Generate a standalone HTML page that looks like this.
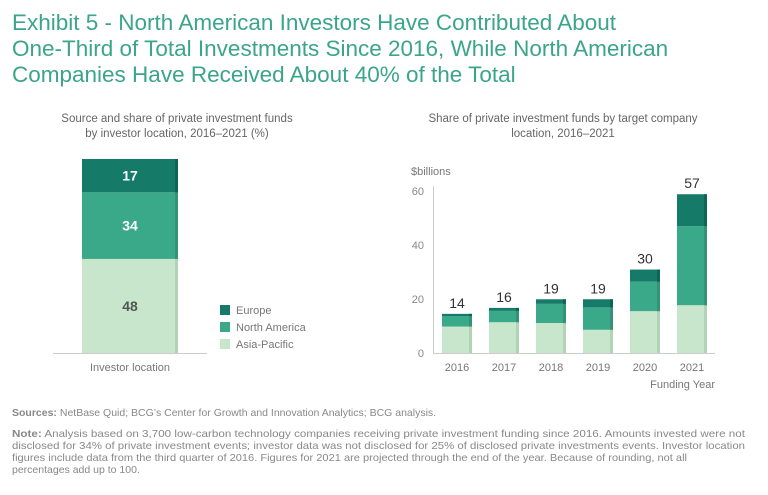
<!DOCTYPE html>
<html><head><meta charset="utf-8"><style>
body{margin:0;background:#fff;width:768px;height:490px;overflow:hidden;font-family:"Liberation Sans",sans-serif}
svg text{font-family:"Liberation Sans",sans-serif}
.note{font-family:"Liberation Sans Narrow","Liberation Sans",sans-serif}
</style></head><body>
<svg width="768" height="490">
<g fill="#3aa58a" font-size="22.5">
<text x="12" y="30">Exhibit 5 - North American Investors Have Contributed About</text>
<text x="12" y="56">One-Third of Total Investments Since 2016, While North American</text>
<text x="12" y="82">Companies Have Received About 40% of the Total</text>
</g>
<g fill="#666" font-size="11.5" text-anchor="middle">
<text x="177" y="122">Source and share of private investment funds</text>
<text x="177" y="137">by investor location, 2016–2021 (%)</text>
</g>
<g fill="#666" font-size="11.5" text-anchor="middle">
<text x="563" y="122">Share of private investment funds by target company</text>
<text x="563" y="137">location, 2016–2021</text>
</g>
<g id="left"></g>
<g id="right"></g>
<g class="note" fill="#888" font-size="10.5">
<text x="12" y="416"><tspan font-weight="bold">Sources:</tspan> NetBase Quid; BCG’s Center for Growth and Innovation Analytics; BCG analysis.</text>
<text x="12" y="437" textLength="733" lengthAdjust="spacingAndGlyphs"><tspan font-weight="bold">Note:</tspan> Analysis based on 3,700 low-carbon technology companies receiving private investment funding since 2016. Amounts invested were not</text>
<text x="12" y="449" textLength="733" lengthAdjust="spacingAndGlyphs">disclosed for 34% of private investment events; investor data was not disclosed for 25% of disclosed private investments events. Investor location</text>
<text x="12" y="461" textLength="675" lengthAdjust="spacingAndGlyphs">figures include data from the third quarter of 2016. Figures for 2021 are projected through the end of the year. Because of rounding, not all</text>
<text x="12" y="473">percentages add up to 100.</text>
</g>
</svg>
<script>
const NS="http://www.w3.org/2000/svg";
const shareSegments=["Asia-Pacific","North America","Europe"];
const shareValues=[48,34,17];
const years=["2016","2017","2018","2019","2020","2021"];
const apValues=[9.8,11.4,11.1,8.6,15.5,17.7];
const naValues=[3.9,4.2,7.1,8.3,10.9,29.3];
const euValues=[0.8,1.1,1.7,3.0,4.5,11.8];
const totalLabels=["14","16","19","19","30","57"];
const yTicks=[0,20,40,60];
const colors={"Europe":"#167a68","North America":"#3aa98a","Asia-Pacific":"#c8e6cb"};
const shadows={"Europe":"#0f6555","North America":"#329475","Asia-Pacific":"#b3d3b6"};
function mk(p,t,a){const e=document.createElementNS(NS,t);for(const k in a)e.setAttribute(k,a[k]);p.appendChild(e);return e;}
// left
const L=document.getElementById('left');
const lBase=353,lTop=159,shareTotal=shareValues.reduce((a,b)=>a+b,0);
const ly=v=>lBase-(v/shareTotal)*(lBase-lTop);
let cum=0;
shareValues.forEach((v,i)=>{
  const s=shareSegments[i];const y1=ly(cum+v),y0=ly(cum);
  const r=mk(L,'rect',{x:82,y:y1,width:96,height:y0-y1,fill:colors[s]});
  
  
  const sh=mk(L,'rect',{x:175,y:y1,width:3,height:y0-y1,fill:shadows[s]});
  
  
  const t=mk(L,'text',{x:130,y:(y0+y1)/2+5,'text-anchor':'middle','font-size':14,'font-weight':'bold',fill:i==0?'#555':'#fff'});
  t.textContent=v;
  
  
  cum+=v;
});
const la=mk(L,'line',{x1:53,x2:207,y1:353.5,y2:353.5,stroke:'#ccc'});


const lx=mk(L,'text',{x:130,y:371,'text-anchor':'middle','font-size':11,fill:'#777'});lx.textContent='Investor location';


["Europe","North America","Asia-Pacific"].forEach((s,i)=>{
  const g=mk(L,'g',{});
  
  
  mk(g,'rect',{x:220,y:305+i*17,width:10,height:10,fill:colors[s]});
  const t=mk(g,'text',{x:236,y:314+i*17,'font-size':11,fill:'#777'});t.textContent=s;
});
// right
const R=document.getElementById('right');
const y0=353,yPerUnit=(353-191)/60;
const yS=v=>y0-v*yPerUnit;
const bx=i=>442+i*47;
mk(R,'line',{x1:433.5,x2:433.5,y1:186,y2:353,stroke:'#ccc'});
const ax=mk(R,'line',{x1:433,x2:715,y1:353.5,y2:353.5,stroke:'#ccc'});


const yt=mk(R,'text',{x:411,y:175,'font-size':11,fill:'#777'});yt.textContent='$billions';


yTicks.forEach(v=>{const t=mk(R,'text',{x:424,y:yS(v)+4,'text-anchor':'end','font-size':11,fill:'#888'});t.textContent=v;

});
years.forEach((yr,i)=>{
  let c=0;
  [["Asia-Pacific",apValues[i]],["North America",naValues[i]],["Europe",euValues[i]]].forEach(([s,v])=>{
    const top=yS(c+v),bot=yS(c);
    const r=mk(R,'rect',{x:bx(i),y:top,width:30,height:bot-top,fill:colors[s]});
    
    
    mk(R,'rect',{x:bx(i)+27,y:top,width:3,height:bot-top,fill:shadows[s]});
    c+=v;
  });
  const t=mk(R,'text',{x:bx(i)+15,y:yS(c)-6,'text-anchor':'middle','font-size':14,fill:'#333'});t.textContent=totalLabels[i];
  
  
  const xl=mk(R,'text',{x:bx(i)+15,y:371,'text-anchor':'middle','font-size':11,fill:'#777'});xl.textContent=yr;
  
  
});
const xt=mk(R,'text',{x:715,y:388,'text-anchor':'end','font-size':11,fill:'#777'});xt.textContent='Funding Year';


</script>
</body></html>
